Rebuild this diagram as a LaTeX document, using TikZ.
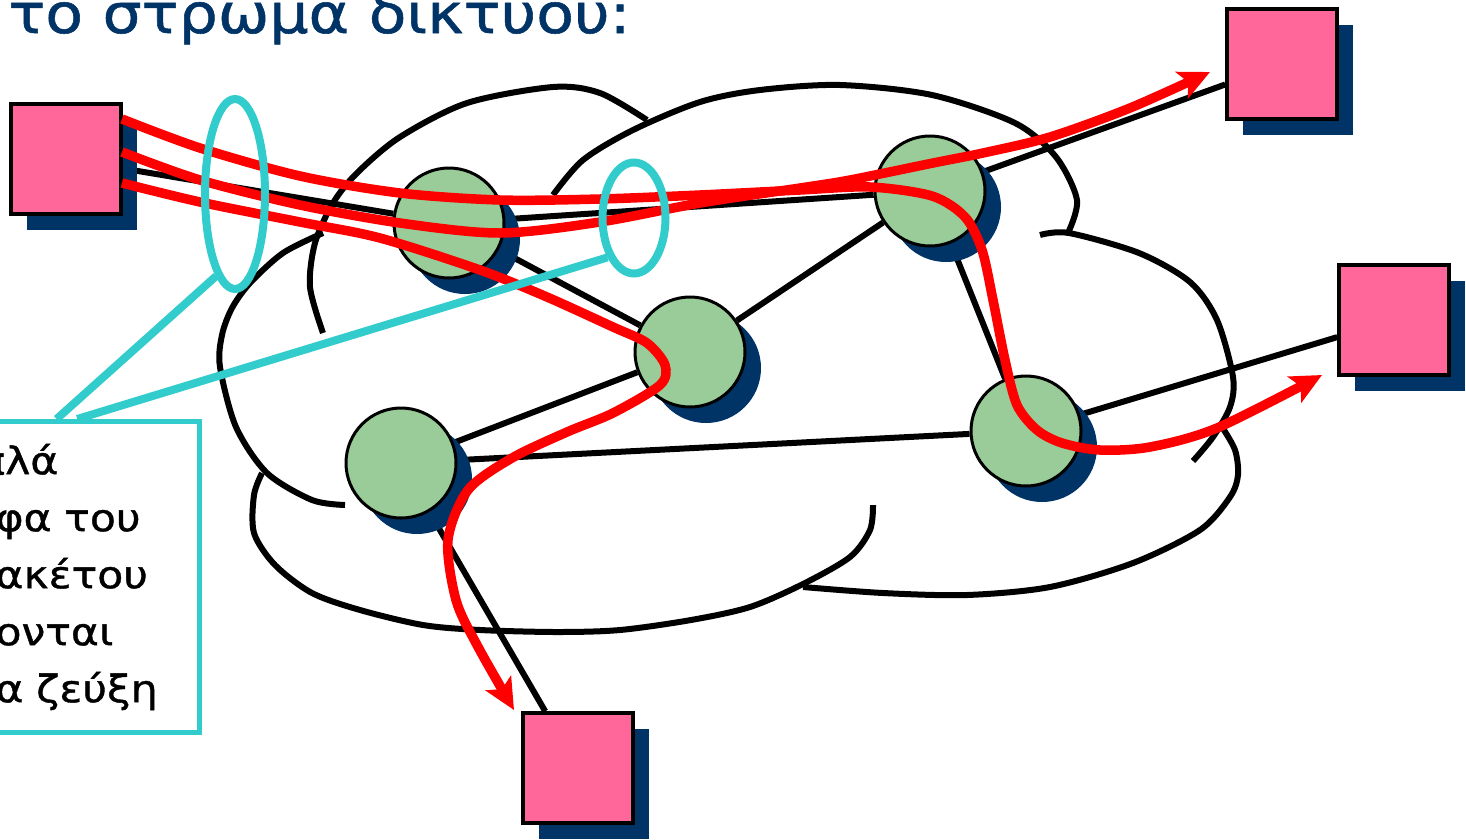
\documentclass[tikz,border=0pt]{standalone}
\usepackage{fontspec}
\setmainfont{DejaVu Sans}
\newfontfamily\slidefont{DejaVu Sans}[FakeStretch=1.12,FakeBold=1]
\usetikzlibrary{arrows.meta,shadows,backgrounds,calc,shapes.geometric}
\definecolor{hostpink}{RGB}{255,102,153}
\definecolor{shadowblue}{RGB}{0,51,102}
\definecolor{routergreen}{RGB}{153,204,153}
\definecolor{ringcyan}{RGB}{51,204,204}
\begin{document}
\begin{tikzpicture}[x=1pt,y=-1pt,
  host/.style={rectangle,draw=black,line width=3.5pt,fill=hostpink,
    minimum size=110pt,inner sep=0pt,
    drop shadow={shadow xshift=16pt,shadow yshift=-16pt,fill=shadowblue,opacity=1}},
  router/.style={circle,draw=black,line width=3pt,fill=routergreen,
    minimum size=110pt,inner sep=0pt,
    drop shadow={shadow xshift=16pt,shadow yshift=-16pt,fill=shadowblue,opacity=1}},
  link/.style={line width=6pt},
  cloudline/.style={line width=6pt},
  flow/.style={red,line width=9.5pt,-{Stealth[length=31pt,width=29pt,inset=7pt]}},
  ring/.style={ellipse,draw=ringcyan,line width=8pt,inner sep=0pt},
  callout/.style={ringcyan,line width=8pt}]
  \useasboundingbox (0,0) rectangle (1466,839);
  \clip (0,0) rectangle (1466,839);
  \node[anchor=base east,text=shadowblue,font=\slidefont\fontsize{55}{66}\selectfont]
    (title) at (634,33) {το στρώμα δικτύου:};
  \node[host] (h1) at (66,159) {};
  \node[host] (h2) at (1282,64) {};
  \node[host] (h3) at (1394,320) {};
  \node[host] (h4) at (578,768) {};
  \node[router] (r1) at (449,223) {};
  \node[router] (r2) at (690,352) {};
  \node[router] (r3) at (930,191) {};
  \node[router] (r4) at (401,463) {};
  \node[router] (r5) at (1026,431) {};
  \begin{scope}[on background layer]
  \draw[cloudline]
    plot[smooth] coordinates {(323,333) (310,287) (315,243) (333,203) (357,173)
      (400,137) (467,103) (553,87) (600,93) (647,120)};
  \draw[cloudline]
    plot[smooth] coordinates {(553,195) (583,160) (633,130) (700,102) (760,90)
      (840,85) (932,95) (1015,123) (1056,157) (1077,200) (1068,233)};
  \draw[cloudline]
    plot[smooth] coordinates {(1040,235) (1069,233) (1139,253) (1190,282)
      (1217,320) (1233,377) (1230,407) (1213,437) (1193,461)};
  \draw[cloudline]
    plot[smooth] coordinates {(1222,427) (1235,450) (1238,475) (1230,497)
      (1200,530) (1133,563) (1050,587) (967,595) (883,593) (803,587)};
  \draw[cloudline]
    plot[smooth] coordinates {(873,505) (870,530) (850,557) (803,584) (750,607)
      (691,620) (620,630) (557,632) (480,630) (423,625) (360,610) (312,593)
      (275,565) (254,533) (254,495) (262,473)};
  \draw[cloudline]
    plot[smooth] coordinates {(345,505) (312,500) (267,473) (236,427) (220,367)
      (222,335) (232,308) (250,283) (283,253) (323,233)};
  \draw[link] (h1) -- (r1);
  \draw[link] (r1) -- (r3);
  \draw[link] (r1) -- (r2);
  \draw[link] (r2) -- (r3);
  \draw[link] (r2) -- (r4);
  \draw[link] (r4) -- (r5);
  \draw[link] (r3) -- (r5);
  \draw[link] (r3) -- (h2);
  \draw[link] (r5) -- (h3);
  \draw[link] (r4) -- (h4);
  \end{scope}
  \draw[flow]
    plot[smooth] coordinates {(122,119) (200,148) (300,176) (400,193) (500,200)
      (600,199) (700,195) (800,190) (870,187) (932,196) (965,217) (982,250)
      (993,300) (1005,360) (1017,405) (1037,430) (1062,443) (1100,450)
      (1150,447) (1217,428) (1322,375)};
  \draw[flow]
    plot[smooth] coordinates {(122,152) (200,180) (300,205) (400,223) (500,233)
      (600,222) (700,203) (800,188) (850,180) (933,163) (983,153) (1050,137)
      (1130,108) (1210,72)};
  \draw[flow]
    plot[smooth] coordinates {(122,183) (200,202) (300,222) (380,238) (480,270)
      (547,297) (613,327) (647,343) (665,365) (660,385) (613,413) (567,432)
      (512,458) (468,490) (448,540) (456,600) (477,645) (514,710)};
  \node[ring,minimum width=60pt,minimum height=190pt] (e1) at (235,194) {};
  \node[ring,minimum width=63pt,minimum height=111pt] (e2) at (634,218) {};
  \node[draw=ringcyan,line width=5pt,minimum width=212pt,minimum height=311pt,
    anchor=north east,text width=196pt,inner xsep=8pt,align=left,
    font=\slidefont\fontsize{38}{57}\selectfont]
    (note) at (202,419)
    {\hspace*{-16pt}πλά\\φα του\\ακέτου\\ονται\\α ζεύξη};
  \draw[callout]
    ($(note.north west)!0.33!(note.north east)$)
    --
    (e1.257);
  \draw[callout]
    ($(note.north west)!0.425!(note.north east)$)
    --
    (e2.236);
\end{tikzpicture}
\end{document}
